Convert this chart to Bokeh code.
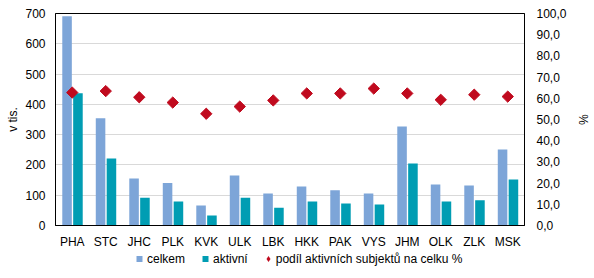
from bokeh.plotting import figure
from bokeh.layouts import column
from bokeh.models import (Range1d, LinearAxis, FixedTicker, CustomJSTickFormatter,
                          Legend, LegendItem, ColumnDataSource, FactorRange)
from bokeh.transform import dodge
from bokeh.embed import file_html
from bokeh.resources import INLINE

regions = ["PHA", "STC", "JHC", "PLK", "KVK", "ULK", "LBK", "HKK", "PAK", "VYS", "JHM", "OLK", "ZLK", "MSK"]
celkem = [691, 354, 155, 140, 66, 165, 106, 129, 116, 106, 327, 135, 132, 251]
aktivni = [437, 221, 92, 79, 33, 92, 59, 79, 73, 69, 205, 79, 83, 152]
podil = [62.7, 63.4, 60.5, 58.0, 52.7, 56.1, 59.0, 62.3, 62.3, 64.6, 62.3, 59.3, 61.7, 60.8]
left_ticks = [0, 100, 200, 300, 400, 500, 600, 700]
right_ticks = [0, 10, 20, 30, 40, 50, 60, 70, 80, 90, 100]

C_CELKEM = "#7DA5D8"
C_AKTIVNI = "#009DB3"
C_PODIL = "#C00A1E"
FONT = "Liberation Sans"

src = ColumnDataSource(dict(region=regions, celkem=celkem, aktivni=aktivni, podil=podil))

p = figure(x_range=FactorRange(*regions), y_range=Range1d(0, 700),
           width=594, height=251, output_backend="svg", toolbar_location=None,
           min_border_left=55, min_border_right=70, min_border_top=13, min_border_bottom=20)
p.extra_y_ranges = {"pct": Range1d(0, 100)}

r1 = p.vbar(x=dodge("region", -0.155, range=p.x_range), top="celkem", width=0.285,
            source=src, fill_color=C_CELKEM, line_color=None)
r2 = p.vbar(x=dodge("region", 0.17, range=p.x_range), top="aktivni", width=0.285,
            source=src, fill_color=C_AKTIVNI, line_color=None)
r3 = p.scatter(x="region", y="podil", y_range_name="pct", source=src, marker="square",
               size=8, angle=0.785398, fill_color=C_PODIL, line_color=C_PODIL)

p.outline_line_color = "black"
p.outline_line_width = 1
p.xgrid.grid_line_color = None
p.ygrid.grid_line_color = "#D9D9D9"
p.ygrid.ticker = FixedTicker(ticks=left_ticks)


def style_axis(ax, standoff):
    ax.major_label_text_font = FONT
    ax.major_label_text_font_size = "12px"
    ax.major_label_text_color = "black"
    ax.major_tick_line_color = None
    ax.minor_tick_line_color = None
    ax.major_tick_out = 0
    ax.major_tick_in = 0
    ax.minor_tick_out = 0
    ax.minor_tick_in = 0
    ax.major_label_standoff = standoff
    ax.axis_line_color = "black"
    ax.axis_label_text_font_style = "normal"
    ax.axis_label_text_font = FONT
    ax.axis_label_text_font_size = "12px"
    ax.axis_label_text_color = "black"


ya = p.yaxis[0]
ya.ticker = FixedTicker(ticks=left_ticks)
style_axis(ya, 10)
ya.axis_label = "v tis."
ya.axis_label_standoff = 2

xa = p.xaxis[0]
style_axis(xa, 9)

ra = LinearAxis(y_range_name="pct", ticker=FixedTicker(ticks=right_ticks),
                formatter=CustomJSTickFormatter(code="return tick.toFixed(1).replace('.', ',');"))
style_axis(ra, 12)
ra.axis_label = "%"
ra.axis_label_standoff = 6
p.add_layout(ra, "right")

# legend strip below the chart
lg = figure(width=594, height=27, output_backend="svg", toolbar_location=None,
            x_range=Range1d(0, 1), y_range=Range1d(0, 1),
            min_border_left=0, min_border_right=0, min_border_top=0, min_border_bottom=0)
lg.axis.visible = False
lg.grid.visible = False
lg.outline_line_color = None
nan_src = ColumnDataSource(dict(x=[float("nan")], y=[float("nan")]))
l1 = lg.scatter(x="x", y="y", source=nan_src, marker="square", size=7,
                fill_color=C_CELKEM, line_color=None)
l2 = lg.scatter(x="x", y="y", source=nan_src, marker="square", size=7,
                fill_color=C_AKTIVNI, line_color=None)
l3 = lg.scatter(x="x", y="y", source=nan_src, marker="diamond", size=7,
                fill_color=C_PODIL, line_color=None)

legend = Legend(items=[LegendItem(label="celkem", renderers=[l1]),
                       LegendItem(label="aktivní", renderers=[l2]),
                       LegendItem(label="podíl aktivních subjektů na celku %", renderers=[l3])],
                orientation="horizontal", location=(76, 12), padding=0, margin=0,
                spacing=12, label_standoff=0, glyph_width=16, glyph_height=15,
                label_height=15, label_text_font=FONT, label_text_font_size="12px",
                label_text_color="black", background_fill_alpha=0, border_line_alpha=0)
lg.add_layout(legend, "center")

layout = column(p, lg, spacing=0)
open("out.html", "w").write(file_html(layout, INLINE))
